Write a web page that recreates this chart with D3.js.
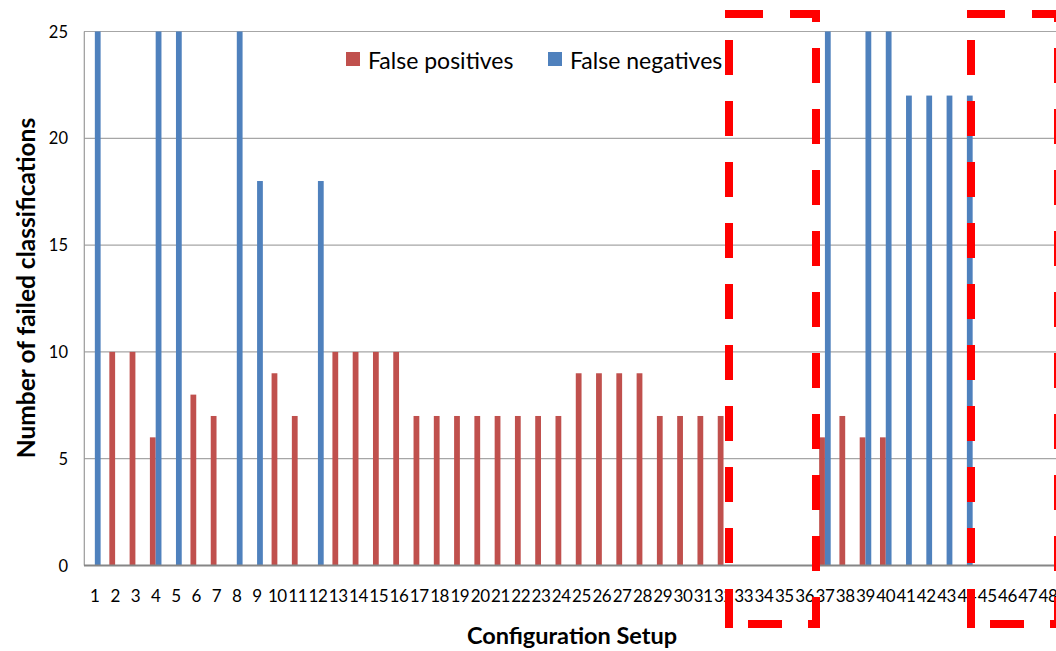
<!DOCTYPE html>
<html>
<head>
<meta charset="utf-8">
<script src="https://cdn.jsdelivr.net/npm/d3@7"></script>
<style>
  html, body { margin: 0; padding: 0; background: #fff; }
  svg { display: block; }
</style>
</head>
<body>
<svg id="chart" width="1056" height="651"></svg>
<script>
// ---- data ----
const categories = d3.range(1, 49).map(String);
const seriesNames = ["False positives", "False negatives"];
const seriesColors = ["#C0504D", "#4F81BD"];
const falsePositives = [
  0, 10, 10, 6, 0, 8, 7, 0, 0, 9, 7, 0,
  10, 10, 10, 10, 7, 7, 7, 7, 7, 7, 7, 7,
  9, 9, 9, 9, 7, 7, 7, 7, 0, 0, 0, 0,
  6, 7, 6, 6, 0, 0, 0, 0, 0, 0, 0, 0
];
const falseNegatives = [
  25, 0, 0, 25, 25, 0, 0, 25, 18, 0, 0, 18,
  0, 0, 0, 0, 0, 0, 0, 0, 0, 0, 0, 0,
  0, 0, 0, 0, 0, 0, 0, 0, 0, 0, 0, 0,
  25, 0, 25, 25, 22, 22, 22, 22, 0, 0, 0, 0
];
const yTicks = [0, 5, 10, 15, 20, 25];
const yTitle = "Number of failed classifications";
const xTitle = "Configuration Setup";

// ---- layout ----
const svg = d3.select("#chart");
const step = 20.28;
const x0Start = 84.7;
const x0 = d3.scaleBand()
  .domain(categories)
  .range([x0Start, x0Start + categories.length * step])
  .paddingInner(0.43)
  .paddingOuter(0.215);
const x1 = d3.scaleBand()
  .domain(seriesNames)
  .range([0, x0.bandwidth()]);
const y = d3.scaleLinear().domain([0, 25]).range([565.5, 31.5]);

const font = "Lato, 'Open Sans', sans-serif";

// gridlines
svg.append("g")
  .selectAll("line")
  .data(yTicks.filter(d => d > 0))
  .join("line")
  .attr("x1", 84).attr("x2", 1060)
  .attr("y1", d => y(d)).attr("y2", d => y(d))
  .attr("stroke", "#A6A6A6").attr("stroke-width", 1.2);

// left axis line
svg.append("line")
  .attr("x1", 84.3).attr("x2", 84.3)
  .attr("y1", y(25)).attr("y2", y(0))
  .attr("stroke", "#9A9A9A").attr("stroke-width", 1.2);

// bars
const data = categories.map((c, i) => ({
  cat: c,
  vals: [falsePositives[i], falseNegatives[i]]
}));
const groups = svg.append("g")
  .selectAll("g")
  .data(data)
  .join("g")
  .attr("transform", d => `translate(${x0(d.cat)},0)`);
groups.selectAll("rect")
  .data(d => d.vals.map((v, j) => ({ name: seriesNames[j], v, j })).filter(e => e.v > 0))
  .join("rect")
  .attr("x", d => x1(d.name))
  .attr("width", x1.bandwidth())
  .attr("y", d => y(d.v))
  .attr("height", d => y(0) - y(d.v))
  .attr("fill", d => seriesColors[d.j]);

// x axis line
svg.append("line")
  .attr("x1", 84).attr("x2", 1060)
  .attr("y1", y(0)).attr("y2", y(0))
  .attr("stroke", "#868686").attr("stroke-width", 2);

// y tick labels
svg.append("g")
  .selectAll("text")
  .data(yTicks)
  .join("text")
  .attr("x", 68)
  .attr("y", d => y(d) + 6)
  .attr("text-anchor", "end")
  .attr("font-family", font)
  .attr("font-size", 16.5)
  .attr("fill", "#000")
  .text(d => d);

// x tick labels
svg.append("g")
  .selectAll("text")
  .data(categories)
  .join("text")
  .attr("x", d => x0(d) + x0.bandwidth() / 2)
  .attr("y", 602)
  .attr("text-anchor", "middle")
  .attr("font-family", font)
  .attr("font-size", 17)
  .attr("letter-spacing", -0.4)
  .attr("fill", "#000")
  .text(d => d);

// axis titles
svg.append("text")
  .attr("transform", "translate(35,288) rotate(-90)")
  .attr("text-anchor", "middle")
  .attr("font-family", font)
  .attr("font-weight", "bold")
  .attr("font-size", 24.5)
  .attr("fill", "#000")
  .text(yTitle);
svg.append("text")
  .attr("x", 572)
  .attr("y", 644)
  .attr("text-anchor", "middle")
  .attr("font-family", font)
  .attr("font-weight", "bold")
  .attr("font-size", 23.5)
  .attr("fill", "#000")
  .text(xTitle);

// legend
const legendX = [346, 548];
const lg = svg.append("g")
  .selectAll("g")
  .data(seriesNames)
  .join("g")
  .attr("transform", (d, i) => `translate(${legendX[i]},52)`);
lg.append("rect")
  .attr("width", 14).attr("height", 14)
  .attr("fill", (d, i) => seriesColors[i]);
lg.append("text")
  .attr("x", 22).attr("y", 16.5)
  .attr("font-family", font)
  .attr("font-size", 23)
  .attr("fill", "#000")
  .text(d => d);

// red dashed annotation boxes
function dashedBox(xl, xr, yt, yb) {
  const g = svg.append("g")
    .attr("fill", "none")
    .attr("stroke", "#FF0000")
    .attr("stroke-width", 8)
    .attr("stroke-linecap", "butt");
  // top
  g.append("line").attr("x1", xl - 4).attr("x2", xr + 4).attr("y1", yt).attr("y2", yt)
    .attr("stroke-dasharray", "38,27");
  // right
  g.append("line").attr("x1", xr).attr("x2", xr).attr("y1", yt).attr("y2", yb + 4)
    .attr("stroke-dasharray", "35,26").attr("stroke-dashoffset", 27);
  // left
  g.append("line").attr("x1", xl).attr("x2", xl).attr("y1", yt).attr("y2", yb + 4)
    .attr("stroke-dasharray", "35,26").attr("stroke-dashoffset", 35);
  // bottom
  g.append("line").attr("x1", xl - 4).attr("x2", xr + 4).attr("y1", yb).attr("y2", yb)
    .attr("stroke-dasharray", "8,15,34,26,12,200");
}
dashedBox(729, 816, 14, 624);
dashedBox(971, 1058, 14, 624);
</script>
</body>
</html>
